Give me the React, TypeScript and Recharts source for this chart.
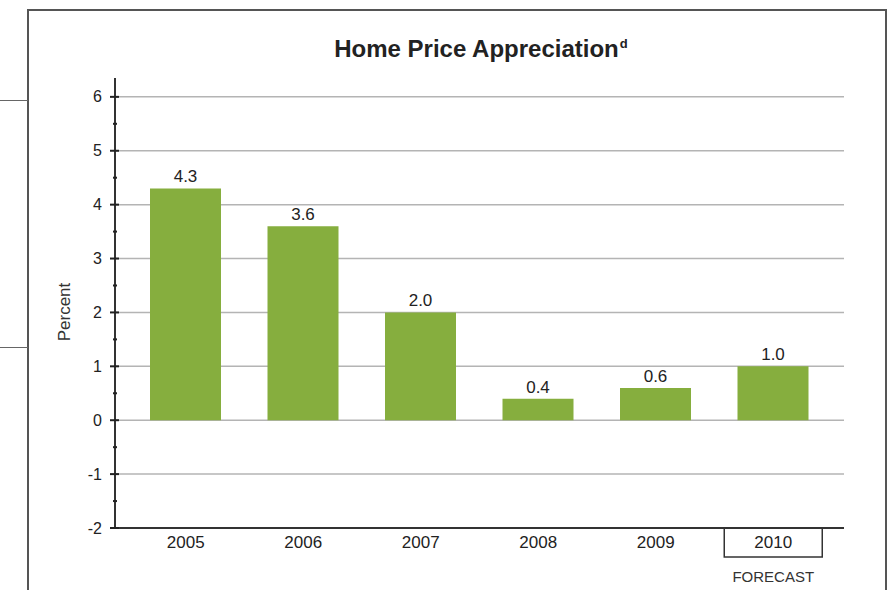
import { BarChart, Bar, XAxis, YAxis, CartesianGrid, LabelList, Label } from 'recharts'

const years = ['2005', '2006', '2007', '2008', '2009', '2010']
const appreciation = [4.3, 3.6, 2.0, 0.4, 0.6, 1.0]
const yTicks = [-2, -1.5, -1, -0.5, 0, 0.5, 1, 1.5, 2, 2.5, 3, 3.5, 4, 4.5, 5, 5.5, 6]
const gridValues = [-1, 0, 1, 2, 3, 4, 5, 6]
const forecastYear = '2010'

const data = years.map((year, i) => ({ year, value: appreciation[i] }))

const FONT = '"Liberation Sans", Arial, sans-serif'
const GREEN = '#86ae3e'

const YTick = (props: any) => {
  const { x, y, payload } = props
  const v = payload.value
  const major = Number.isInteger(v)
  return (
    <g>
      <line x1={major ? x - 5 : x - 2} x2={major ? x + 4 : x + 2} y1={y} y2={y} stroke="#222" strokeWidth={2} />
      {major && (
        <text x={x - 13} y={y} dy={5.5} textAnchor="end" fontSize={16} fill="#222" fontFamily={FONT}>
          {v}
        </text>
      )}
    </g>
  )
}

const XTick = (props: any) => {
  const { x, y, payload } = props
  const isForecast = payload.value === forecastYear
  return (
    <g>
      {isForecast && <rect x={x - 49} y={y} width={98} height={29} fill="none" stroke="#333" strokeWidth={1.5} />}
      <text x={x} y={y + 20} textAnchor="middle" fontSize={17} fill="#222" fontFamily={FONT}>
        {payload.value}
      </text>
      {isForecast && (
        <text x={x} y={y + 54} textAnchor="middle" fontSize={15} fill="#333" fontFamily={FONT}>
          FORECAST
        </text>
      )}
    </g>
  )
}

export default function App() {
  return (
    <div style={{ position: 'absolute', left: 0, top: 0, width: 896, height: 590, background: '#fff', overflow: 'hidden' }}>
      {/* frame and side rules */}
      <div style={{ position: 'absolute', left: 27, top: 9, width: 860, height: 640, border: '2px solid #555', boxSizing: 'border-box' }} />
      <div style={{ position: 'absolute', left: 0, top: 100, width: 28, height: 1, background: '#666' }} />
      <div style={{ position: 'absolute', left: 0, top: 347, width: 28, height: 1, background: '#666' }} />
      <div
        style={{
          position: 'absolute',
          left: 0,
          top: 37,
          width: 962,
          textAlign: 'center',
          fontFamily: FONT,
          fontWeight: 'bold',
          fontSize: 24,
          lineHeight: 1,
          color: '#222',
        }}
      >
        Home Price Appreciation<sup style={{ fontSize: 13, verticalAlign: 'top', position: 'relative', top: 0, marginLeft: 1 }}>d</sup>
      </div>
      <div style={{ position: 'absolute', left: 0, top: 0 }}>
        <BarChart width={896} height={590} data={data} margin={{ top: 78, right: 52, bottom: 0, left: 55 }}>
          <CartesianGrid vertical={false} horizontalValues={gridValues} stroke="#b4b4b4" strokeWidth={1.5} />
          <XAxis
            dataKey="year"
            padding={{ left: 12, right: 12 }}
            axisLine={{ stroke: '#333', strokeWidth: 2 }}
            tickLine={false}
            tickSize={0}
            tickMargin={0}
            tick={<XTick />}
            height={62}
            interval={0}
          />
          <YAxis
            width={60}
            domain={[-2, 6.35]}
            ticks={yTicks}
            interval={0}
            allowDataOverflow
            axisLine={{ stroke: '#333', strokeWidth: 2 }}
            tickLine={false}
            tickSize={0}
            tickMargin={0}
            tick={<YTick />}
          >
            <Label
              content={(p: any) => {
                const cx = 70
                const cy = p.viewBox.y + p.viewBox.height / 2 + 9
                return (
                  <text x={cx} y={cy} transform={`rotate(-90, ${cx}, ${cy})`} textAnchor="middle" fontSize={17} fill="#333" fontFamily={FONT}>
                    Percent
                  </text>
                )
              }}
            />
          </YAxis>
          <Bar dataKey="value" fill={GREEN} barSize={71} isAnimationActive={false}>
            <LabelList
              dataKey="value"
              position="top"
              offset={6}
              formatter={(v: any) => Number(v).toFixed(1)}
              style={{ fontSize: 17, fill: '#222', fontFamily: FONT }}
            />
          </Bar>
        </BarChart>
      </div>
    </div>
  )
}
